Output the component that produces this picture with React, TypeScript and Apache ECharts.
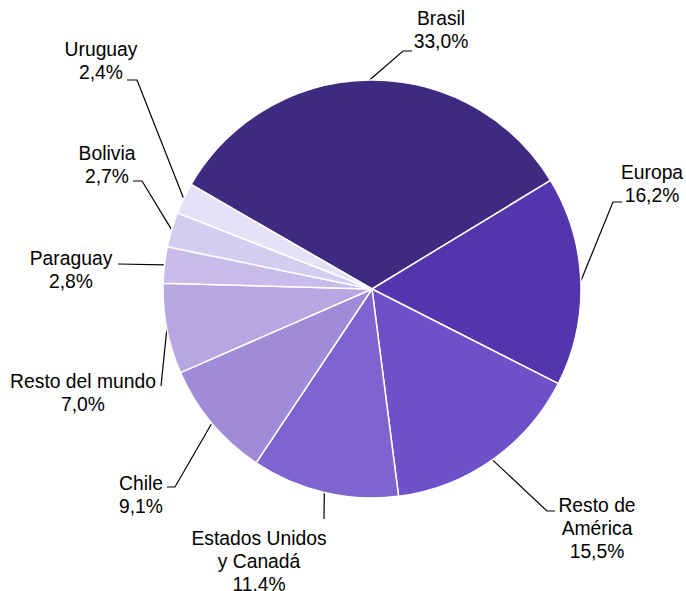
import React, { useEffect, useRef } from "react";
import * as echarts from "echarts";

const categories = [
  "Brasil",
  "Europa",
  "Resto de\nAmérica",
  "Estados Unidos\ny Canadá",
  "Chile",
  "Resto del mundo",
  "Paraguay",
  "Bolivia",
  "Uruguay",
];
const shares = [33.0, 16.2, 15.5, 11.4, 9.1, 7.0, 2.8, 2.7, 2.4];

const colors = [
  "#3e2a80",
  "#5435ae",
  "#6e50c9",
  "#7f63cf",
  "#a08bd8",
  "#b6a7e3",
  "#c7bceb",
  "#d5cdf1",
  "#e6e1f6",
];

// label layout (text centre, line elbow, line end)
const labelCenters: [number, number][] = [
  [441, 30],
  [652, 184],
  [597, 528],
  [259, 561],
  [141, 495],
  [83, 393],
  [71, 270],
  [107, 165],
  [101, 61],
];
const labelElbows: [number, number][] = [
  [403, 51],
  [613, 202],
  [547, 511],
  [324, 519],
  [175, 487],
  [161, 386],
  [118, 264],
  [142, 181],
  [137, 80],
];
const labelEnds: [number, number][] = [
  [412, 51],
  [622, 202],
  [555, 511],
  [324, 519],
  [167, 487],
  [161, 386],
  [118, 264],
  [133, 181],
  [127, 80],
];

export default function App() {
  const ref = useRef<HTMLDivElement>(null);
  useEffect(() => {
    if (!ref.current) return;
    const chart = echarts.init(ref.current, undefined, { renderer: "svg" });
    chart.setOption({
      animation: false,
      backgroundColor: "#ffffff",
      series: [
        {
          type: "pie",
          center: [372, 289],
          radius: 209,
          startAngle: 150,
          clockwise: true,
          avoidLabelOverlap: false,
          data: categories.map((c, i) => ({
            name: c,
            value: shares[i],
            itemStyle: { color: colors[i] },
          })),
          itemStyle: { borderColor: "#ffffff", borderWidth: 1.5 },
          label: {
            show: true,
            position: "outside",
            color: "#000000",
            fontFamily: "Liberation Sans, Arial, sans-serif",
            fontSize: 19.3,
            lineHeight: 23,
            formatter: (p: any) =>
              p.name + "\n" + Number(p.value).toFixed(1).replace(".", ",") + "%",
          },
          labelLine: {
            show: true,
            length: 20,
            length2: 10,
            smooth: false,
            lineStyle: { color: "#000000", width: 1.2 },
          },
          labelLayout: (params: any) => {
            const i = params.dataIndex;
            const pts = params.labelLinePoints;
            const start = pts ? pts[0] : labelElbows[i];
            return {
              x: labelCenters[i][0],
              y: labelCenters[i][1],
              align: "center",
              verticalAlign: "middle",
              labelLinePoints: [
                [start[0], start[1]],
                [labelElbows[i][0], labelElbows[i][1]],
                [labelEnds[i][0], labelEnds[i][1]],
              ],
            };
          },
          emphasis: { disabled: true },
        },
      ],
    });
    return () => chart.dispose();
  }, []);
  return (
    <div
      ref={ref}
      style={{ position: "absolute", left: 0, top: 0, width: 686, height: 591 }}
    />
  );
}
